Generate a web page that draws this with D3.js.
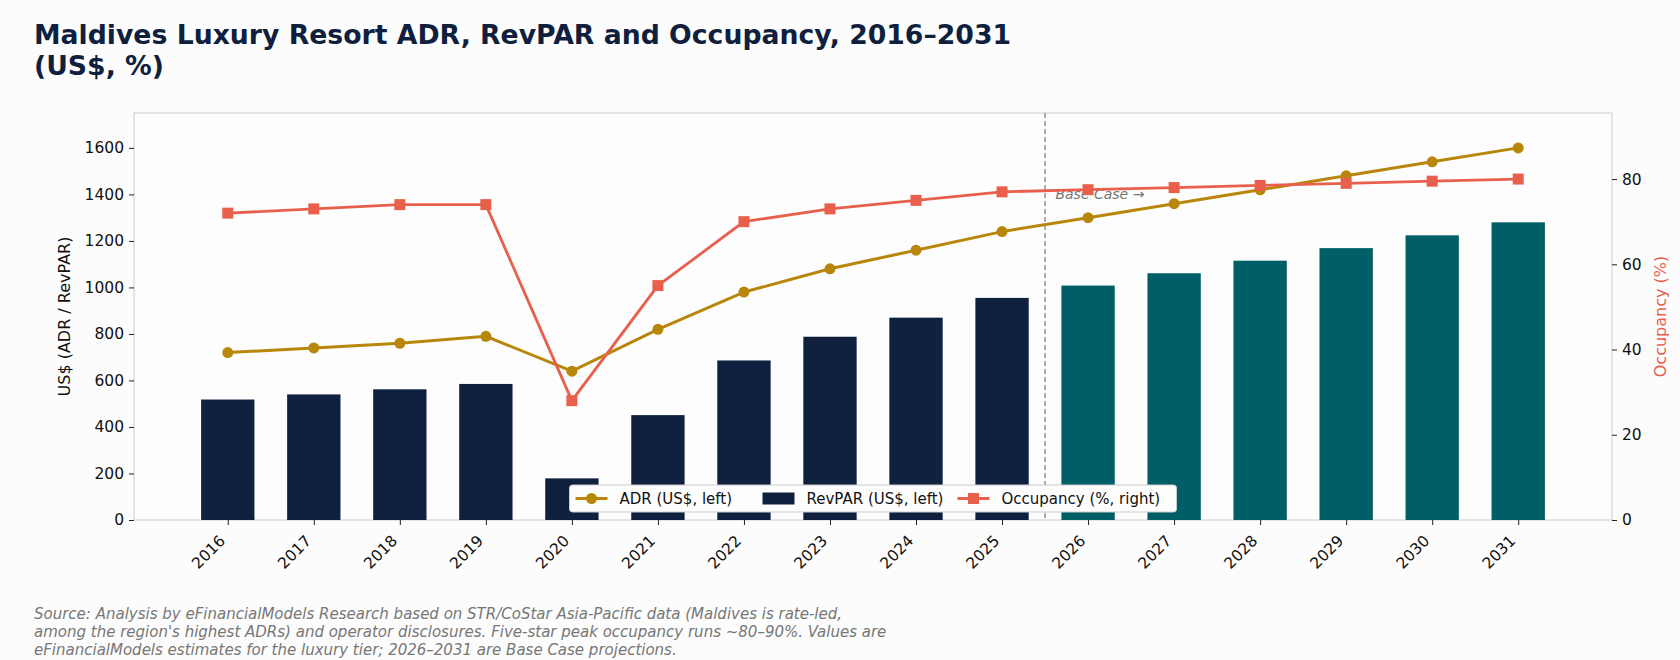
<!DOCTYPE html>
<html>
<head>
<meta charset="utf-8">
<script src="https://cdn.jsdelivr.net/npm/d3@7"></script>
<style>
  body { margin: 0; background: #fcfcfc; }
  svg { display: block; font-family: "DejaVu Sans", sans-serif; }
</style>
</head>
<body>
<div id="chart-area"></div>
<script>
// Data
const years = ["2016","2017","2018","2019","2020","2021","2022","2023","2024","2025","2026","2027","2028","2029","2030","2031"];
const adr = [720, 740, 760, 790, 640, 820, 980, 1080, 1160, 1240, 1300, 1360, 1420, 1480, 1540, 1600];
const revpar = [518, 540, 562, 585, 179, 451, 686, 788, 870, 955, 1008, 1061, 1115, 1169, 1224, 1280];
const occupancy = [72, 73, 74, 74, 28, 55, 70, 73, 75, 77, 77.5, 78, 78.5, 79, 79.5, 80];
const forecastStart = "2026";
const leftTicks = [0, 200, 400, 600, 800, 1000, 1200, 1400, 1600];
const rightTicks = [0, 20, 40, 60, 80];

const navy = "#10213f", teal = "#005f66", gold = "#b8860b", coral = "#e8604c";

let W = 1680, H = 660;
let margin = {top: 113, right: 68, bottom: 140, left: 134};
let width = W - margin.left - margin.right,
    height = 520 - margin.top;

let root = d3.select("#chart-area").append("svg")
    .attr("width", W)
    .attr("height", H);

root.append("rect").attr("width", W).attr("height", H).attr("fill", "#fcfcfc");

// Title
root.append("text")
    .attr("x", 34).attr("y", 44)
    .attr("font-size", 26.7).attr("font-weight", "bold").attr("fill", "#0f1f3d")
    .selectAll("tspan")
    .data(["Maldives Luxury Resort ADR, RevPAR and Occupancy, 2016\u20132031", "(US$, %)"])
    .enter().append("tspan")
    .attr("x", 34).attr("dy", (d, i) => i ? 30.5 : 0)
    .text(d => d);

let svg = root.append("g")
    .attr("transform", "translate(" + margin.left + "," + margin.top + ")");

// Scales
let idx = d3.range(years.length);
let x = d3.scaleLinear().domain([-1.09, years.length - 1 + 1.09]).range([0, width]);
let yLeft = d3.scaleLinear().domain([0, 1750]).range([height, 0]);
let yRight = d3.scaleLinear().domain([0, 95.5]).range([height, 0]);
let barW = x(0.62) - x(0);

// Frame
svg.append("rect")
    .attr("width", width).attr("height", height)
    .attr("fill", "#fdfdfd").attr("stroke", "#cccccc").attr("stroke-width", 1);

// Base case divider
let xDiv = x(years.indexOf(forecastStart) - 0.5);
svg.append("line")
    .attr("x1", xDiv).attr("x2", xDiv).attr("y1", 0).attr("y2", height)
    .attr("stroke", "#777").attr("stroke-width", 1.2).attr("stroke-dasharray", "5,3");
svg.append("text")
    .attr("x", x(years.indexOf(forecastStart) - 0.38)).attr("y", yLeft(1380))
    .attr("font-size", 14).attr("font-style", "italic").attr("fill", "#777")
    .text("Base Case \u2192");

// RevPAR bars
svg.append("g").selectAll("rect")
    .data(idx)
    .enter().append("rect")
    .attr("x", i => x(i) - barW / 2)
    .attr("y", i => yLeft(revpar[i]))
    .attr("width", barW)
    .attr("height", i => height - yLeft(revpar[i]))
    .attr("fill", i => years[i] >= forecastStart ? teal : navy);

// ADR line
let adrLine = d3.line().x(i => x(i)).y(i => yLeft(adr[i]));
svg.append("path")
    .attr("d", adrLine(idx))
    .attr("fill", "none").attr("stroke", gold).attr("stroke-width", 3);
svg.append("g").selectAll("circle")
    .data(idx)
    .enter().append("circle")
    .attr("cx", i => x(i)).attr("cy", i => yLeft(adr[i]))
    .attr("r", 5.5).attr("fill", gold);

// Occupancy line
let occLine = d3.line().x(i => x(i)).y(i => yRight(occupancy[i]));
svg.append("path")
    .attr("d", occLine(idx))
    .attr("fill", "none").attr("stroke", coral).attr("stroke-width", 2.8);
svg.append("g").selectAll("rect")
    .data(idx)
    .enter().append("rect")
    .attr("x", i => x(i) - 5.5).attr("y", i => yRight(occupancy[i]) - 5.5)
    .attr("width", 11).attr("height", 11).attr("fill", coral);

// Axes
let leftAxis = d3.axisLeft(yLeft).tickValues(leftTicks).tickFormat(d3.format("d")).tickSize(5).tickPadding(5);
let gl = svg.append("g").call(leftAxis);
let rightAxis = d3.axisRight(yRight).tickValues(rightTicks).tickSize(5).tickPadding(5);
let gr = svg.append("g").attr("transform", "translate(" + width + ",0)").call(rightAxis);
let bottomAxis = d3.axisBottom(x).tickValues(idx).tickFormat(i => years[i]).tickSize(5).tickPadding(5);
let gb = svg.append("g").attr("transform", "translate(0," + height + ")").call(bottomAxis);

[gl, gr, gb].forEach(g => {
  g.select(".domain").remove();
  g.selectAll(".tick line").attr("stroke", "#222");
  g.selectAll("text").attr("font-size", 15.5).attr("fill", "#111").attr("font-family", "DejaVu Sans");
});
gb.selectAll("text")
    .attr("text-anchor", "end")
    .attr("x", 0).attr("y", 0).attr("dy", "0.35em")
    .attr("transform", "translate(-6,18) rotate(-45)");

// Axis titles
svg.append("text")
    .attr("transform", "translate(" + (-64) + "," + (height / 2) + ") rotate(-90)")
    .attr("text-anchor", "middle").attr("font-size", 16).attr("fill", "#111")
    .text("US$ (ADR / RevPAR)");
svg.append("text")
    .attr("transform", "translate(" + (width + 54) + "," + (height / 2) + ") rotate(-90)")
    .attr("text-anchor", "middle").attr("font-size", 16).attr("fill", coral)
    .text("Occupancy (%)");

// Legend
let legW = 607, legH = 27;
let leg = svg.append("g").attr("transform", "translate(" + (width / 2 - legW / 2) + "," + (height - 8 - legH) + ")");
leg.append("rect")
    .attr("width", legW).attr("height", legH).attr("rx", 3)
    .attr("fill", "#fdfdfd").attr("stroke", "#cccccc");
let items = [
  {label: "ADR (US$, left)", type: "circle", color: gold, dx: 6},
  {label: "RevPAR (US$, left)", type: "bar", color: navy, dx: 193},
  {label: "Occupancy (%, right)", type: "square", color: coral, dx: 388}
];
items.forEach(it => {
  let g = leg.append("g").attr("transform", "translate(" + it.dx + "," + (legH / 2) + ")");
  if (it.type === "bar") {
    g.append("rect").attr("x", 0).attr("y", -6).attr("width", 32).attr("height", 12).attr("fill", it.color);
  } else {
    g.append("line").attr("x1", 0).attr("x2", 32).attr("stroke", it.color).attr("stroke-width", 3);
    if (it.type === "circle") g.append("circle").attr("cx", 16).attr("r", 5.5).attr("fill", it.color);
    else g.append("rect").attr("x", 10.5).attr("y", -5.5).attr("width", 11).attr("height", 11).attr("fill", it.color);
  }
  g.append("text").attr("x", 44).attr("dy", "0.35em").attr("font-size", 15).attr("fill", "#111").text(it.label);
});

// Source note
root.append("text")
    .attr("x", 34).attr("y", 619)
    .attr("font-size", 15).attr("font-style", "italic").attr("fill", "#777")
    .selectAll("tspan")
    .data([
      "Source: Analysis by eFinancialModels Research based on STR/CoStar Asia-Pacific data (Maldives is rate-led,",
      "among the region's highest ADRs) and operator disclosures. Five-star peak occupancy runs ~80\u201390%. Values are",
      "eFinancialModels estimates for the luxury tier; 2026\u20132031 are Base Case projections."
    ])
    .enter().append("tspan")
    .attr("x", 34).attr("dy", (d, i) => i ? 18 : 0)
    .text(d => d);
</script>
</body>
</html>
